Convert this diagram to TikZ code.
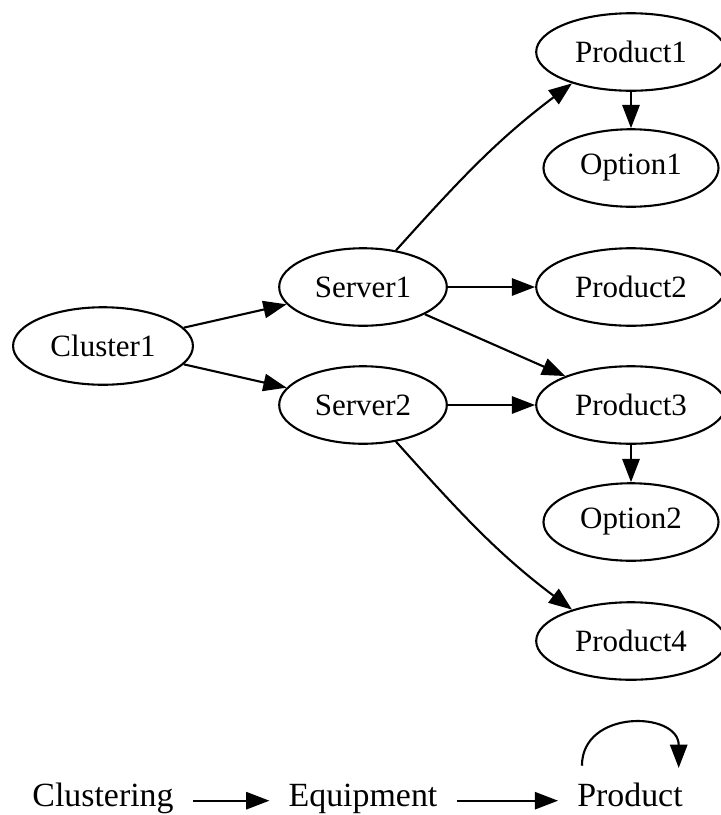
\documentclass[tikz,border=0pt]{standalone}
\usepackage{fontspec}
\setmainfont{Liberation Serif}
\usepackage{tikz}
\usetikzlibrary{shapes,arrows}
\usetikzlibrary{positioning}
\usetikzlibrary{arrows.meta}
\tikzset{>=stealth}
\tikzstyle{oval} = [draw, ellipse, line width=0.95pt, inner xsep=5pt,
minimum height=35pt]
\tikzstyle{line} = [draw, line width=0.95pt, -{Triangle[length=10.5pt,width=7.8pt]}]

\begin{document}
\begin{tikzpicture}[x=0.4516pt, y=0.4516pt,
	every node/.style={font=\fontsize{14}{16}\selectfont},
	tag/.style={font=\fontsize{15.3}{18}\selectfont, inner xsep=8.5pt,
	inner ysep=0pt, text height=0.7em, text depth=0.22em, anchor=base}]
	\useasboundingbox (0,0) rectangle (720,-815);
	\node [oval] (Cl1) at (103,-346) {Cluster1};
	\node [oval] (Sv1) at (363,-287) {Server1};
	\node [oval] (Sv2) at (363,-405) {Server2};
	\node [oval] (Pr1) at (631,-52) {Product1};
	\node [oval] (Op1) at (631,-168) {Option1};
	\node [oval] (Pr2) at (631,-287) {Product2};
	\node [oval] (Pr3) at (631,-405) {Product3};
	\node [oval] (Op2) at (631,-522) {Option2};
	\node [oval] (Pr4) at (631,-641) {Product4};
	%% Arrows
	\path [line] (Cl1) to (Sv1);
	\path [line] (Cl1) to (Sv2);
	\path [line] (Sv1) to[out=48,in=217] (Pr1.208);
	\path [line] (Sv1) to (Pr2);
	\path [line] (Sv1) to (Pr3);
	\path [line] (Sv2) to (Pr3);
	\path [line] (Sv2) to[out=-48,in=143] (Pr4.152);
	\path [line] (Pr1) to (Op1);
	\path [line] (Pr3) to (Op2);
	%% The legend
	\node [tag] (tg1) at (103,-806) {Clustering};
	\node [tag] (tg2) at (363,-806) {Equipment};
	\node [tag] (tg3) at (630,-806) {Product};
	\path [line] (tg1) to (tg2);
	\path [line] (tg2) to (tg3);
	\path [line] ([shift={(-21.7pt,11pt)}]tg3.north) to[out=90,in=90,
	looseness=1.5] ([shift={(22pt,10pt)}]tg3.north);
\end{tikzpicture}
\end{document}
